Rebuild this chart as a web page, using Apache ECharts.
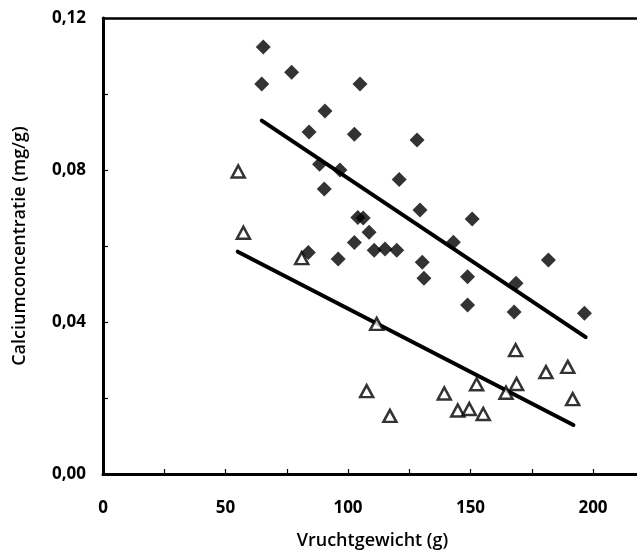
<!DOCTYPE html>
<html>
<head>
<meta charset="utf-8">
<script src="https://cdn.jsdelivr.net/npm/echarts@6/dist/echarts.min.js"></script>
<style>
html,body{margin:0;padding:0;background:#fff;}
#c{width:637px;height:550px;}
</style>
</head>
<body>
<div id="c"></div>
<script>
// Filled diamonds: [fruit weight (g), calcium concentration (mg/g)]
const diamondX = [65.4, 77.0, 64.8, 104.9, 90.6, 84.1, 102.6, 128.2, 88.4, 96.7, 120.9, 90.3, 129.4, 104.0, 106.2, 108.6, 102.6, 110.7, 115.1, 119.9, 96.0, 83.8, 130.3, 131.0, 150.7, 143.0, 148.8, 148.8, 181.8, 168.6, 167.8, 196.5];
const diamondY = [0.1124, 0.1057, 0.1026, 0.1026, 0.0955, 0.0900, 0.0894, 0.0879, 0.0815, 0.0800, 0.0775, 0.0750, 0.0695, 0.0675, 0.0674, 0.0636, 0.0609, 0.0589, 0.0592, 0.0589, 0.0566, 0.0583, 0.0557, 0.0515, 0.0671, 0.0610, 0.0519, 0.0445, 0.0563, 0.0502, 0.0426, 0.0423];
// Open triangles
const triangleX = [55.2, 57.3, 81.1, 111.7, 107.6, 117.1, 168.4, 180.8, 189.7, 191.7, 168.8, 164.5, 152.5, 139.3, 144.8, 149.5, 155.2];
const triangleY = [0.0796, 0.0635, 0.0568, 0.0395, 0.0218, 0.0153, 0.0326, 0.0268, 0.0282, 0.0197, 0.0237, 0.0214, 0.0236, 0.0212, 0.0167, 0.0171, 0.0158];
// Regression lines (end points)
const upperLineX = [64.8, 197.0];
const upperLineY = [0.0930, 0.0360];
const lowerLineX = [55.0, 192.0];
const lowerLineY = [0.0585, 0.0129];
// Axis ticks
const xTicks = [0, 50, 100, 150, 200];
const yTicks = [0.00, 0.04, 0.08, 0.12];

const zip = (a, b) => a.map((v, i) => [v, b[i]]);
const fontFamily = '"Open Sans", "DejaVu Sans", sans-serif';
const chart = echarts.init(document.getElementById('c'), null, {renderer: 'canvas'});
chart.setOption({
  animation: false,
  backgroundColor: '#fff',
  grid: {left: 103, top: 18, width: 539, height: 456, show: false, outerBoundsMode: 'none', containLabel: false},
  xAxis: [{
    type: 'value', min: xTicks[0], max: 220, interval: 50,
    name: 'Vruchtgewicht (g)', nameLocation: 'middle', nameGap: 58,
    nameTextStyle: {fontFamily, fontSize: 18, fontWeight: 600, color: '#000'},
    axisLine: {show: true, lineStyle: {color: '#000', width: 3}},
    axisTick: {show: true, inside: true, length: 5, lineStyle: {color: '#000', width: 1.2}},
    minorTick: {show: true, splitNumber: 2, length: 5, lineStyle: {color: '#000', width: 1.2}},
    splitLine: {show: false},
    axisLabel: {fontFamily, fontSize: 17, fontWeight: 700, color: '#000', margin: 26,
      formatter: v => xTicks.includes(v) ? String(v) : ''}
  }, {
    type: 'value', position: 'top', min: xTicks[0], max: 220,
    axisLine: {show: true, onZero: false, lineStyle: {color: '#000', width: 2.5}},
    axisTick: {show: false}, axisLabel: {show: false}, splitLine: {show: false}
  }],
  yAxis: {
    type: 'value', min: yTicks[0], max: yTicks[yTicks.length - 1], interval: 0.04,
    name: 'Calciumconcentratie (mg/g)', nameLocation: 'middle', nameGap: 74,
    nameTextStyle: {fontFamily, fontSize: 18, fontWeight: 600, color: '#000'},
    axisLine: {show: true, lineStyle: {color: '#000', width: 3}},
    axisTick: {show: true, inside: true, length: 5, lineStyle: {color: '#000', width: 1.2}},
    minorTick: {show: true, splitNumber: 2, length: 5, lineStyle: {color: '#000', width: 1.2}},
    splitLine: {show: false},
    axisLabel: {fontFamily, fontSize: 17, fontWeight: 700, color: '#000', margin: 17,
      formatter: v => v.toFixed(2).replace('.', ',')}
  },
  series: [
    {type: 'line', data: zip(upperLineX, upperLineY), symbol: 'none', lineStyle: {color: '#000', width: 4, cap: 'round'}, z: 2},
    {type: 'line', data: zip(lowerLineX, lowerLineY), symbol: 'none', lineStyle: {color: '#000', width: 4, cap: 'round'}, z: 2},
    {type: 'scatter', data: zip(diamondX, diamondY), symbol: 'diamond', symbolSize: [15, 15], itemStyle: {color: '#000'}, z: 3},
    {type: 'scatter', data: zip(triangleX, triangleY), symbol: 'triangle', symbolSize: [13, 12], itemStyle: {color: '#fff', borderColor: '#000', borderWidth: 2.5}, z: 3}
  ]
});
</script>
</body>
</html>
